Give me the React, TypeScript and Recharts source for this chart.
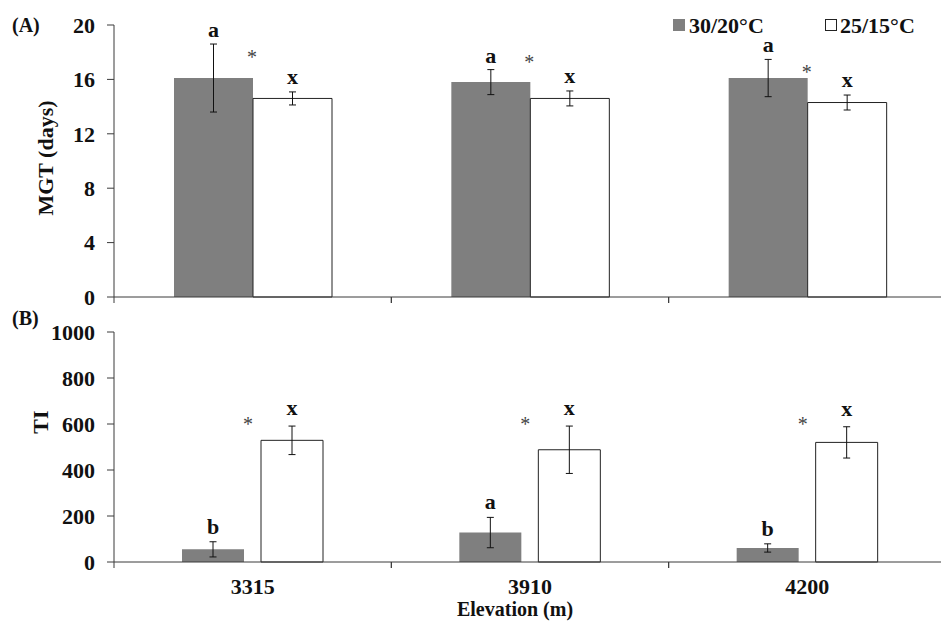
import React from 'react';
import { BarChart, Bar, XAxis, YAxis, ErrorBar, LabelList } from 'recharts';

const categories = ['3315', '3910', '4200'];

const mgtWarm = [16.1, 15.8, 16.1];
const mgtWarmErr = [2.5, 0.92, 1.37];
const mgtCool = [14.6, 14.6, 14.3];
const mgtCoolErr = [0.48, 0.55, 0.55];
const mgtWarmLetters = ['a', 'a', 'a'];
const mgtCoolLetters = ['x', 'x', 'x'];
const mgtStar = [17.9, 17.5, 16.8];
const mgtTicks = [0, 4, 8, 12, 16, 20];

const tiWarm = [55, 128, 61];
const tiWarmErr = [33, 66, 18];
const tiCool = [529, 488, 520];
const tiCoolErr = [62, 103, 68];
const tiWarmLetters = ['b', 'a', 'b'];
const tiCoolLetters = ['x', 'x', 'x'];
const tiStar = [614, 614, 614];
const tiTicks = [0, 200, 400, 600, 800, 1000];

const seriesNames = ['30/20°C', '25/15°C'];

const mgtData = categories.map((c, i) => ({
  cat: c,
  warm: mgtWarm[i],
  warmErr: mgtWarmErr[i],
  cool: mgtCool[i],
  coolErr: mgtCoolErr[i],
}));
const tiData = categories.map((c, i) => ({
  cat: c,
  warm: tiWarm[i],
  warmErr: tiWarmErr[i],
  cool: tiCool[i],
  coolErr: tiCoolErr[i],
}));

const FONT = '"Liberation Serif", "Times New Roman", serif';
const GRAY = '#7f7f7f';
const AXIS = '#3a3a3a';

function geom(props: any) {
  const vb = props.viewBox || {};
  return {
    x: Number(props.x ?? vb.x),
    y: Number(props.y ?? vb.y),
    width: Number(props.width ?? vb.width),
    height: Number(props.height ?? vb.height),
    value: Number(props.value),
    index: Number(props.index),
  };
}

const makeLetter = (letters: string[], errs: number[], gap: number) => (props: any) => {
  const { x, y, width, height, value, index } = geom(props);
  if (!isFinite(x) || !value) return null;
  const ppu = height / value;
  const errTop = y - errs[index] * ppu;
  return (
    <text
      x={x + width / 2}
      y={errTop - gap}
      textAnchor="middle"
      fontFamily={FONT}
      fontWeight="bold"
      fontSize={22}
      fill="#111"
    >
      {letters[index]}
    </text>
  );
};

const makeStar = (stars: number[], dx: number) => (props: any) => {
  const { x, y, width, height, value, index } = geom(props);
  if (!isFinite(x) || !value) return null;
  const ppu = height / value;
  const cy = y + height - stars[index] * ppu;
  return (
    <text
      x={x + width + dx}
      y={cy + 10}
      textAnchor="middle"
      fontFamily={FONT}
      fontSize={20}
      fill="#444"
    >
      *
    </text>
  );
};

const BoundaryTick = (props: any) => {
  const { x, y, payload, showLabel } = props;
  const off = payload && payload.offset != null ? payload.offset : 138.7;
  const axisY = y - 6;
  return (
    <g>
      <line x1={x - off} x2={x - off} y1={axisY} y2={axisY + 6} stroke={AXIS} strokeWidth={1} />
      <line x1={x + off} x2={x + off} y1={axisY} y2={axisY + 6} stroke={AXIS} strokeWidth={1} />
      {showLabel ? (
        <text
          x={x}
          y={axisY + 32}
          textAnchor="middle"
          fontFamily={FONT}
          fontWeight="bold"
          fontSize={22}
          fill="#111"
        >
          {payload.value}
        </text>
      ) : null}
    </g>
  );
};

const yTick = { fontFamily: FONT, fontWeight: 'bold', fontSize: 22, fill: '#111' } as any;

export default function App() {
  return (
    <div
      style={{
        position: 'absolute',
        left: 0,
        top: 0,
        width: 941,
        height: 621,
        overflow: 'hidden',
        background: '#fff',
      }}
    >
      <div style={{ position: 'absolute', left: 0, top: 0 }}>
        <BarChart
          width={946}
          height={310}
          data={mgtData}
          margin={{ top: 25, right: 0, left: 0, bottom: 0 }}
          barGap={0}
        >
          <XAxis
            dataKey="cat"
            height={13}
            tickSize={6}
            tickMargin={0}
            tickLine={false}
            axisLine={{ stroke: AXIS, strokeWidth: 1 }}
            tick={<BoundaryTick showLabel={false} />}
            interval={0}
          />
          <YAxis
            width={114}
            domain={[0, 20]}
            ticks={mgtTicks}
            tickSize={7}
            tickMargin={12}
            tick={yTick}
            axisLine={{ stroke: AXIS, strokeWidth: 1 }}
            tickLine={{ stroke: AXIS, strokeWidth: 1 }}
            interval={0}
          />
          <Bar dataKey="warm" name={seriesNames[0]} fill={GRAY} barSize={79} isAnimationActive={false}>
            <ErrorBar dataKey="warmErr" width={3.5} stroke="#111" strokeWidth={1} direction="y" />
            <LabelList dataKey="warm" content={makeLetter(mgtWarmLetters, mgtWarmErr, 7)} />
            <LabelList dataKey="warm" content={makeStar(mgtStar, -1)} />
          </Bar>
          <Bar
            dataKey="cool"
            name={seriesNames[1]}
            fill="#ffffff"
            stroke="#222"
            strokeWidth={1}
            barSize={79}
            isAnimationActive={false}
          >
            <ErrorBar dataKey="coolErr" width={3.5} stroke="#111" strokeWidth={1} direction="y" />
            <LabelList dataKey="cool" content={makeLetter(mgtCoolLetters, mgtCoolErr, 8)} />
          </Bar>
        </BarChart>
      </div>

      <div style={{ position: 'absolute', left: 0, top: 310 }}>
        <BarChart
          width={946}
          height={311}
          data={tiData}
          margin={{ top: 22, right: 0, left: 0, bottom: 0 }}
          barGap={17}
        >
          <XAxis
            dataKey="cat"
            height={59}
            tickSize={6}
            tickMargin={0}
            tickLine={false}
            axisLine={{ stroke: AXIS, strokeWidth: 1 }}
            tick={<BoundaryTick showLabel={true} />}
            interval={0}
          />
          <YAxis
            width={114}
            domain={[0, 1000]}
            ticks={tiTicks}
            tickSize={7}
            tickMargin={12}
            tick={yTick}
            axisLine={{ stroke: AXIS, strokeWidth: 1 }}
            tickLine={{ stroke: AXIS, strokeWidth: 1 }}
            interval={0}
          />
          <Bar dataKey="warm" name={seriesNames[0]} fill={GRAY} barSize={62} isAnimationActive={false}>
            <ErrorBar dataKey="warmErr" width={3.5} stroke="#111" strokeWidth={1} direction="y" />
            <LabelList dataKey="warm" content={makeLetter(tiWarmLetters, tiWarmErr, 8)} />
            <LabelList dataKey="warm" content={makeStar(tiStar, 4)} />
          </Bar>
          <Bar
            dataKey="cool"
            name={seriesNames[1]}
            fill="#ffffff"
            stroke="#222"
            strokeWidth={1}
            barSize={62}
            isAnimationActive={false}
          >
            <ErrorBar dataKey="coolErr" width={3.5} stroke="#111" strokeWidth={1} direction="y" />
            <LabelList dataKey="cool" content={makeLetter(tiCoolLetters, tiCoolErr, 11)} />
          </Bar>
        </BarChart>
      </div>

      <svg
        width={941}
        height={621}
        style={{ position: 'absolute', left: 0, top: 0, pointerEvents: 'none' }}
        fontFamily={FONT}
        fontWeight="bold"
        fill="#111"
      >
        <text x={12} y={32} fontSize={20}>(A)</text>
        <text x={12} y={325} fontSize={20}>(B)</text>
        <text
          x={0}
          y={0}
          fontSize={22}
          textAnchor="middle"
          transform="translate(53,158) rotate(-90)"
        >
          MGT (days)
        </text>
        <text x={0} y={0} fontSize={22} textAnchor="middle" transform="translate(48,422) rotate(-90)">
          TI
        </text>
        <rect x={673} y={19} width={12} height={12} fill={GRAY} />
        <text x={689} y={33} fontSize={22}>{seriesNames[0]}</text>
        <rect x={825.5} y={19.5} width={11} height={11} fill="#fff" stroke="#222" strokeWidth={1} />
        <text x={840} y={33} fontSize={22}>{seriesNames[1]}</text>
        <text x={515} y={616} fontSize={20} textAnchor="middle">Elevation (m)</text>
      </svg>
    </div>
  );
}
